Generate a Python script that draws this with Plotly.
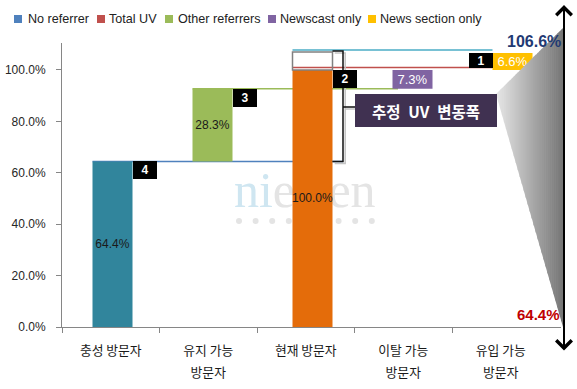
import plotly.graph_objects as go

# ---------------- data ----------------
categories = ["충성 방문자", "유지 가능 방문자", "현재 방문자", "이탈 가능 방문자", "유입 가능 방문자"]
category_line1 = ["충성 방문자", "유지 가능", "현재 방문자", "이탈 가능", "유입 가능"]
category_line2 = ["", "방문자", "", "방문자", "방문자"]

series_names = ["No referrer", "Total UV", "Other referrers", "Newscast only", "News section only"]
series_category = ["충성 방문자", "현재 방문자", "유지 가능 방문자", "이탈 가능 방문자", "유입 가능 방문자"]
series_values = [64.4, 100.0, 28.3, 7.3, 6.6]
series_base = [0.0, 0.0, 64.4, 92.7, 100.0]
series_labels = ["64.4%", "100.0%", "28.3%", "7.3%", "6.6%"]

badge_text = ["4", "3", "2", "1"]
badge_category = ["충성 방문자", "유지 가능 방문자", "현재 방문자", "유입 가능 방문자"]
badge_level = [64.4, 92.7, 100.0, 100.0]

connector_levels = [64.4, 92.7, 101.0, 107.8]   # blue, green, red, cyan lines
estimate_box = [100.0, 107.0]                     # grey outlined box above Total UV
range_bracket = [64.4, 107.4]                     # black bracket
range_label = "추정\u2002UV\u2002변동폭"
range_top_text = "106.6%"
range_bottom_text = "64.4%"

y_tickvals = [0, 20, 40, 60, 80, 100]
y_ticktext = ["0.0%", "20.0%", "40.0%", "60.0%", "80.0%", "100.0%"]

# ---------------- styles / layout geometry ----------------
W, H = 577, 389
ML, MR, MT, MB = 62, 16, 43, 62          # plot area: x 62..561, y 43..327
PW, PH = W - ML - MR, H - MT - MB


def PX(x):
    return (x - ML) / PW


def PY(y):
    return (H - MB - y) / PH


bar_colors = ["#31859C", "#E46C0A", "#9BBB59", "#8064A2", "#FFC000"]
legend_colors = ["#4F81BD", "#C0504D", "#9BBB59", "#8064A2", "#FFC000"]
label_colors = ["#1a1a1a", "#1a1a1a", "#1a1a1a", "#ffffff", "#ffffff"]
label_sizes = [12, 12, 12, 13, 13]
connector_colors = ["#4F81BD", "#9BBB59", "#C0504D", "#4BACC6"]
LAT = "Liberation Sans, Arial, sans-serif"
KR = "Noto Sans CJK KR, sans-serif"
BARW = 0.4
X_RANGE = [-0.5, -0.5 + PW / 97.5]       # category axis (labels / ticks)
X2_RANGE = [-0.505, -0.505 + PW / 100.0]  # bar axis

idx = {c: i for i, c in enumerate(categories)}

fig = go.Figure()

# watermark on the base subplot (drawn below the overlaid bar subplot)
fig.add_trace(go.Scatter(
    x=[1.99], y=[51.5], mode="text",
    text=["<span style='color:#cfe6f1'>ni</span>elsen"],
    textfont=dict(family="Liberation Serif, serif", size=50, color="#e4e4e4"),
    xaxis="x", yaxis="y", hoverinfo="skip", showlegend=False, cliponaxis=False))
fig.add_trace(go.Scatter(
    x=[(239 + k * 16.6 - ML) / 97.5 - 0.5 for k in range(9)], y=[41.2] * 9, mode="markers",
    marker=dict(size=6, color="#e4e4e4"),
    xaxis="x", yaxis="y", hoverinfo="skip", showlegend=False))
# invisible anchor traces so the category-label axes are drawn
for ax in ["x4", "x5"]:
    fig.add_trace(go.Scatter(
        x=list(range(len(categories))), y=[0] * len(categories), mode="markers",
        marker=dict(size=1, opacity=0), xaxis=ax, yaxis="y",
        hoverinfo="skip", showlegend=False))

for name, cat, v, b, lab, col, lc, ls in zip(series_names, series_category, series_values,
                                             series_base, series_labels, bar_colors,
                                             label_colors, label_sizes):
    fig.add_trace(go.Bar(
        name=name, x=[idx[cat]], y=[v], base=[b], width=BARW,
        marker=dict(color=col, line=dict(width=0)),
        text=[lab], textposition="inside", insidetextanchor="middle",
        textangle=0, constraintext="none",
        textfont=dict(family=LAT, size=ls, color=lc),
        xaxis="x2", yaxis="y", showlegend=False, hoverinfo="skip"))

shapes = []
# connector lines (behind bars)
starts = [idx[categories[0]] - BARW / 2, idx[categories[1]] - BARW / 2,
          idx[categories[2]] - BARW / 2, idx[categories[2]] - BARW / 2]
ends = [2.305, 2.855, idx[categories[4]] - BARW / 2, idx[categories[4]] - BARW / 2]
for lvl, c, s, e in zip(connector_levels, connector_colors, starts, ends):
    shapes.append(dict(type="line", xref="x2", yref="y", x0=s, x1=e, y0=lvl, y1=lvl,
                       line=dict(color=c, width=1.5), layer="below"))
# grey outlined estimate box above Total UV
ci = idx["현재 방문자"]
shapes.append(dict(type="rect", xref="x2", yref="y", x0=ci - BARW / 2, x1=ci + BARW / 2,
                   y0=estimate_box[0], y1=estimate_box[1],
                   line=dict(color="#808080", width=1.5), fillcolor="rgba(0,0,0,0)"))
# bracket with shadow
bx = 2.305
mid = 85.6
for dx, dy, col in [(0.022, -0.8, "#c4c4c4"), (0, 0, "#111111")]:
    path = (f"M {ci + BARW/2 + dx},{range_bracket[1] + dy} L {bx + dx},{range_bracket[1] + dy} "
            f"L {bx + dx},{range_bracket[0] + dy} L {ci + BARW/2 + dx},{range_bracket[0] + dy} "
            f"M {bx + dx},{mid + dy} L {2.425 + dx},{mid + dy}")
    shapes.append(dict(type="path", xref="x2", yref="y", path=path,
                       line=dict(color=col, width=1.5)))

# gradient funnel made of thin strips (decoration, paper space)
ax_, ay_ = 496.0, 94.0   # left apex
bx_, by_ = 563.0, 28.0   # top right
cy_ = 327.0              # bottom right (x = bx_)
n = 34
c0, c1 = (0xe8, 0xe8, 0xe8), (0x74, 0x74, 0x74)


def top(x):
    return ay_ + (x - ax_) * (by_ - ay_) / (bx_ - ax_)


def bot(x):
    return ay_ + (x - ax_) * (cy_ - ay_) / (bx_ - ax_)


for k in range(n):
    xa = ax_ + (bx_ - ax_) * k / n
    xb = ax_ + (bx_ - ax_) * (k + 1) / n
    xbb = min(xb + 0.6, bx_)
    t = (k + 0.5) / n
    col = "rgb({},{},{})".format(*[round(c0[j] + (c1[j] - c0[j]) * t) for j in range(3)])
    path = (f"M {PX(xa)},{PY(top(xa))} L {PX(xbb)},{PY(top(xbb))} "
            f"L {PX(xbb)},{PY(bot(xbb))} L {PX(xa)},{PY(bot(xa))} Z")
    shapes.append(dict(type="path", xref="paper", yref="paper", path=path,
                       line=dict(width=0), fillcolor=col))

# custom legend (paper space)
leg_sq_x = [14, 97, 165, 268, 368]
leg_tx_x = [26, 107, 176, 278, 378]
annotations = []
for name, c, sx, tx in zip(series_names, legend_colors, leg_sq_x, leg_tx_x):
    shapes.append(dict(type="rect", xref="paper", yref="paper",
                       x0=PX(sx), x1=PX(sx + 8), y0=PY(23), y1=PY(15),
                       line=dict(width=0), fillcolor=c))
    annotations.append(dict(xref="paper", yref="paper", x=PX(tx), y=PY(18.5),
                            xanchor="left", yanchor="middle", text=name, showarrow=False,
                            font=dict(family=LAT, size=12.6, color="#222222")))

# number badges
for t, cat, lvl in zip(badge_text, badge_category, badge_level):
    i = idx[cat]
    if t == "1":
        annotations.append(dict(xref="x2", yref="y", x=i - BARW / 2, y=lvl + 0.8,
                                xanchor="right", yanchor="bottom", text=f"<b>{t}</b>",
                                showarrow=False, bgcolor="#000000", width=24, height=15,
                                borderpad=0, borderwidth=0,
                                font=dict(family=LAT, size=12, color="white")))
    else:
        annotations.append(dict(xref="x2", yref="y", x=i + BARW / 2, y=lvl,
                                xanchor="left", yanchor="top", text=f"<b>{t}</b>",
                                showarrow=False, bgcolor="#000000", width=24, height=18,
                                borderpad=0, borderwidth=0,
                                font=dict(family=LAT, size=12, color="white")))

# range label box
annotations.append(dict(xref="paper", yref="paper", x=PX(426), y=PY(110.5),
                        xanchor="center", yanchor="middle",
                        text=f"<b>{range_label}</b>",
                        showarrow=False, bgcolor="#403151", width=142, height=33,
                        borderpad=0, borderwidth=0,
                        font=dict(family=KR, size=15.5, color="white")))
# double arrow
annotations.append(dict(xref="paper", yref="paper", x=PX(564), y=PY(5), ax=0, ay=347,
                        xanchor="center", yanchor="middle",
                        text="", showarrow=True,
                        arrowhead=4, startarrowhead=4, arrowside="end+start",
                        arrowwidth=2, arrowsize=1.5, startarrowsize=1.5,
                        arrowcolor="#000000", standoff=0, startstandoff=0))
annotations.append(dict(xref="paper", yref="paper", x=PX(534), y=PY(42),
                        xanchor="center", yanchor="middle",
                        text=f"<b>{range_top_text}</b>",
                        showarrow=False, font=dict(family=LAT, size=16, color="#1F3A73")))
annotations.append(dict(xref="paper", yref="paper", x=PX(538), y=PY(314),
                        xanchor="center", yanchor="middle",
                        text=f"<b>{range_bottom_text}</b>",
                        showarrow=False, font=dict(family=LAT, size=15, color="#C00000")))

label_axis = dict(overlaying="x", range=X_RANGE, anchor="y", side="bottom",
                  tickmode="array", tickvals=list(range(len(categories))),
                  ticks="outside", tickcolor="rgba(0,0,0,0)", showline=False,
                  showgrid=False, zeroline=False, ticklabeloverflow="allow",
                  tickfont=dict(family=KR, size=12.8, color="#1a1a1a"))

fig.update_layout(
    width=W, height=H,
    margin=dict(l=ML, r=MR, t=MT, b=MB, pad=0, autoexpand=False),
    paper_bgcolor="white", plot_bgcolor="rgba(0,0,0,0)",
    barmode="overlay", showlegend=False,
    font=dict(family=LAT, color="#222222"),
    xaxis=dict(range=X_RANGE, tickmode="array",
               tickvals=[-0.5, 0.5, 1.5, 2.5, 3.5], ticktext=[""] * 5,
               ticks="outside", ticklen=5, tickcolor="#868686",
               showline=True, linecolor="#868686", linewidth=1,
               showgrid=False, zeroline=False),
    xaxis4=dict(label_axis, ticktext=category_line1, ticklen=12),
    xaxis5=dict(label_axis, ticktext=category_line2, ticklen=34),
    xaxis2=dict(overlaying="x", range=X2_RANGE, visible=False, anchor="y"),
    yaxis=dict(range=[0, 110.5],
               tickmode="array", tickvals=y_tickvals, ticktext=y_ticktext,
               ticks="outside", ticklen=5, tickcolor="#868686",
               tickfont=dict(family=LAT, size=12, color="#262626"),
               ticklabelstandoff=8,
               showline=True, linecolor="#868686", linewidth=1,
               showgrid=False, zeroline=False),
    shapes=shapes, annotations=annotations,
)

fig.write_html("out.html", config={"displayModeBar": False},
               post_script="document.body.style.margin='0';document.body.style.padding='0';")
